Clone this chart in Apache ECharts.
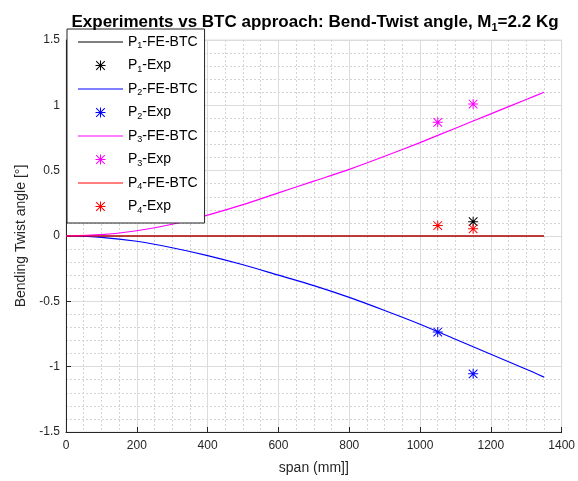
<!DOCTYPE html>
<html>
<head>
<meta charset="utf-8">
<script src="https://cdn.jsdelivr.net/npm/echarts@6/dist/echarts.min.js"></script>
<style>
html, body { margin: 0; padding: 0; background: #fff; }
#chart { width: 578px; height: 481px; }
</style>
</head>
<body>
<div id="chart"></div>
<script>
// span positions for the FE-BTC curves (mm)
var spanFE = [0, 100, 200, 300, 400, 500, 600, 700, 800, 900, 1000, 1100, 1200, 1300, 1350];
var p1FE = [0, 0, 0, 0, 0, 0, 0, 0, 0, 0, 0, 0, 0, 0, 0];
var p2FE = [0, -0.01, -0.04, -0.09, -0.15, -0.22, -0.30, -0.38, -0.47, -0.57, -0.675, -0.79, -0.905, -1.02, -1.08];
var p3FE = [0, 0.01, 0.04, 0.09, 0.16, 0.24, 0.33, 0.42, 0.51, 0.61, 0.715, 0.825, 0.935, 1.045, 1.10];
var p4FE = [0, 0, 0, 0, 0, 0, 0, 0, 0, 0, 0, 0, 0, 0, 0];

// experiments
var p1ExpSpan = [1150];
var p1Exp = [0.11];
var expSpan = [1050, 1150];
var p2Exp = [-0.735, -1.055];
var p3Exp = [0.87, 1.01];
var p4Exp = [0.08, 0.055];

var xTicks = { min: 0, max: 1400, step: 200 };
var yTicks = { min: -1.5, max: 1.5, step: 0.5 };

// matlab style asterisk marker
var STAR = 'path://M4.5 0H5.5V10H4.5Z M0 4.5H10V5.5H0Z M0.35 1.06L1.06 0.35L9.65 8.94L8.94 9.65Z M8.94 0.35L9.65 1.06L1.06 9.65L0.35 8.94Z';
// plain line for the legend
var DASH = 'path://M0 0H45V1.2H0Z';

function zip(xs, ys) {
    return xs.map(function (x, i) { return [x, ys[i]]; });
}

function lineSeries(name, color, ys) {
    return {
        name: name,
        type: 'line',
        data: zip(spanFE, ys),
        smooth: 0.3,
        symbol: 'none',
        lineStyle: { color: color, width: 1.2 },
        itemStyle: { color: color },
        z: 2
    };
}

function expSeries(name, color, xs, ys) {
    return {
        name: name,
        type: 'scatter',
        data: zip(xs, ys),
        symbol: STAR,
        symbolSize: 10,
        itemStyle: { color: color, opacity: 1 },
        z: 3
    };
}

var series = [
    lineSeries('P1-FE-BTC', '#000000', p1FE),
    expSeries('P1-Exp', '#000000', p1ExpSpan, p1Exp),
    lineSeries('P2-FE-BTC', '#0000ff', p2FE),
    expSeries('P2-Exp', '#0000ff', expSpan, p2Exp),
    lineSeries('P3-FE-BTC', '#ff00ff', p3FE),
    expSeries('P3-Exp', '#ff00ff', expSpan, p3Exp),
    lineSeries('P4-FE-BTC', '#ff0000', p4FE),
    expSeries('P4-Exp', '#ff0000', expSpan, p4Exp)
];

var legendData = series.map(function (s) {
    if (s.type == 'line') {
        return { name: s.name, icon: DASH, itemStyle: { color: s.lineStyle.color } };
    }
    return { name: s.name, icon: STAR, itemStyle: { color: s.itemStyle.color } };
});

var FONT = 'Liberation Sans, Arial, Helvetica, sans-serif';
var TXT = '#262626';

var chart = echarts.init(document.getElementById('chart'), null, { renderer: 'canvas' });

chart.setOption({
    backgroundColor: '#ffffff',
    animation: false,
    title: {
        text: 'Experiments vs BTC approach: Bend-Twist angle, M{sub|1}=2.2 Kg',
        left: 310,
        textAlign: 'center',
        top: 7,
        textStyle: {
            fontFamily: FONT,
            fontSize: 17,
            fontWeight: 'bold',
            color: '#000',
            rich: {
                sub: { fontSize: 11, fontWeight: 'bold', fontFamily: FONT, color: '#000', padding: [10, 0, 0, 0] }
            }
        }
    },
    legend: {
        orient: 'vertical',
        left: 67,
        top: 29,
        selectedMode: false,
        backgroundColor: '#fff',
        borderColor: '#262626',
        borderWidth: 1,
        padding: [6, 7, 8, 11],
        itemWidth: 45,
        itemHeight: 10,
        itemGap: 8,
        data: legendData,
        formatter: function (name) {
            return name.replace(/^P(\d)/, 'P{sub|$1}');
        },
        textStyle: {
            fontFamily: FONT,
            fontSize: 14,
            color: '#000',
            rich: {
                sub: { fontSize: 9, fontFamily: FONT, color: '#000', padding: [8, 0, 0, 0] }
            }
        }
    },
    grid: {
        left: 66,
        right: 15,
        top: 40,
        bottom: 49,
        show: true,
        borderColor: '#dcdcdc',
        borderWidth: 1,
        containLabel: false
    },
    xAxis: {
        type: 'value',
        min: xTicks.min,
        max: xTicks.max,
        interval: xTicks.step,
        name: 'span (mm]]',
        nameLocation: 'middle',
        nameGap: 29,
        nameTextStyle: { fontFamily: FONT, fontSize: 14, color: TXT },
        axisLine: { show: true, onZero: false, lineStyle: { color: TXT, width: 1 } },
        axisTick: { show: true, inside: true, length: 5, lineStyle: { color: TXT } },
        axisLabel: {
            fontFamily: FONT, fontSize: 12, color: TXT, margin: 8,
            formatter: function (v) { return String(v); }
        },
        splitLine: { show: true, lineStyle: { color: '#dcdcdc', width: 1 } },
        minorTick: { show: false, splitNumber: 4 },
        minorSplitLine: { show: true, lineStyle: { color: '#d4d4d4', width: 1, type: [2, 2] } }
    },
    yAxis: {
        type: 'value',
        min: yTicks.min,
        max: yTicks.max,
        interval: yTicks.step,
        name: 'Bending Twist angle [°]',
        nameLocation: 'middle',
        nameGap: 36,
        nameTextStyle: { fontFamily: FONT, fontSize: 14, color: TXT },
        axisLine: { show: true, onZero: false, lineStyle: { color: TXT, width: 1 } },
        axisTick: { show: true, inside: true, length: 5, lineStyle: { color: TXT } },
        axisLabel: { fontFamily: FONT, fontSize: 12, color: TXT, margin: 6 },
        splitLine: { show: true, lineStyle: { color: '#dcdcdc', width: 1 } },
        minorTick: { show: false, splitNumber: 5 },
        minorSplitLine: { show: true, lineStyle: { color: '#d4d4d4', width: 1, type: [2, 2] } }
    },
    series: series
});
</script>
</body>
</html>
